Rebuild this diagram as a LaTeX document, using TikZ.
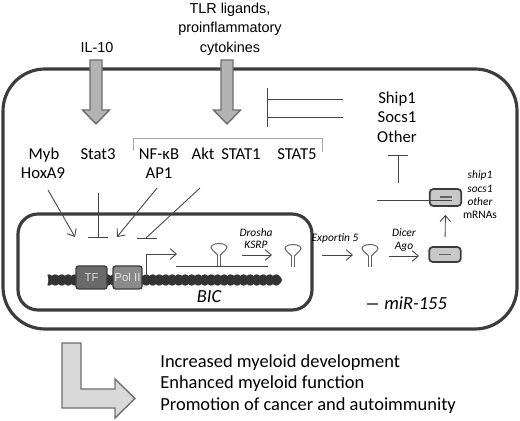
\documentclass[tikz,border=0pt]{standalone}
\usepackage{fontspec}
\setmainfont{Carlito}
\newfontfamily\arialf{Liberation Sans}
\usetikzlibrary{arrows.meta}
\definecolor{memgray}{HTML}{3C3C3C}
\definecolor{linegray}{HTML}{454545}
\definecolor{blockfill}{HTML}{B3B3B3}
\definecolor{blockline}{HTML}{6E6E6E}
\definecolor{lfill}{HTML}{D9D9D9}
\definecolor{dnagray}{HTML}{333333}
\definecolor{tfgray}{HTML}{6A6A6A}
\definecolor{polgray}{HTML}{8A8A8A}
\definecolor{boxfill}{HTML}{C8C8C8}

\begin{document}
\begin{tikzpicture}[x=0.02cm,y=-0.02cm,
    lbl/.style={font=\fontsize{9.5}{11}\selectfont,text height=6.2pt,text depth=0pt,inner sep=0pt},
    arial/.style={font=\arialf\fontsize{8.2}{10}\selectfont,text height=5.9pt,text depth=0pt,inner sep=0pt},
    mini/.style={font=\fontsize{6.5}{8}\selectfont\itshape,text height=4.2pt,text depth=0pt,inner sep=0pt},
    bigit/.style={font=\fontsize{10.5}{12}\selectfont\itshape,text height=6.8pt,text depth=0pt,inner sep=0pt},
    outtxt/.style={font=\fontsize{10.5}{12}\selectfont,text height=6.8pt,text depth=0pt,inner sep=0pt,anchor=west},
    thinln/.style={draw=linegray,line width=0.5pt},
    act/.style={thinln,-{Straight Barb[length=3.5pt,width=6pt]}},
    inh/.style={thinln,-{Bar[width=11pt]}},
    mirna/.style={draw=memgray!80,line width=1pt},
    membrane/.style={draw=memgray,line width=1.8pt},
    blockarr/.style={draw=blockline,fill=blockfill,line width=0.8pt},
    gene/.style={draw=memgray,line width=0.8pt,rounded corners=1.5pt,minimum height=0.46cm,inner sep=0pt,font=\arialf\fontsize{6.5}{7}\selectfont},
    riscbox/.style={draw=memgray,fill=boxfill,line width=1pt,rounded corners=2pt,minimum width=0.63cm,inner sep=0pt},
    hpin/.style={draw=linegray!85,line width=0.55pt},
    blockdown/.pic={\draw[blockarr] (-6,0) -- (6,0) -- (6,50) -- (13.5,50) -- (0,64) -- (-13.5,50) -- (-6,50) -- cycle;},
    hairpin/.pic={
      \draw[hpin] (-1.3,0) -- (-1.3,-11) (1.3,0) -- (1.3,-11);
      \draw[hpin] (-1.3,-11) -- (-6.5,-16) .. controls (-10.5,-19.5) and (-6,-22.5) .. (0,-22.5)
                  .. controls (6,-22.5) and (10.5,-19.5) .. (6.5,-16) -- (1.3,-11);}
  ]
  \useasboundingbox (0,0) rectangle (520,421);
  % cell and nucleus
  \draw[membrane,rounded corners=0.84cm] (3,69) rectangle (517,329);
  \draw[membrane,rounded corners=0.4cm] (18,214) rectangle (312,310);
  % stimuli
  \pic at (96,60) {blockdown};
  \pic at (227,60) {blockdown};
  \draw
    (97,47) node[arial] (il10) {IL-10}
    (230,8) node[arial] (tlr1) {TLR ligands,}
    (230,27.5) node[arial] (tlr2) {proinflammatory}
    (230,47) node[arial] (tlr3) {cytokines};
  % factors
  \draw
    (44,154) node[lbl] (myb) {Myb}
    (43,173) node[lbl] (hoxa) {HoxA9}
    (98,154) node[lbl] (stat3) {Stat3}
    (159,154) node[lbl] (nfkb) {NF-κB}
    (159,173) node[lbl] (ap1) {AP1}
    (203,154) node[lbl] (akt) {Akt}
    (241,154) node[lbl] (stat1) {STAT1}
    (297,154) node[lbl] (stat5) {STAT5}
    (397,98) node[lbl] (ship) {Ship1}
    (397,117) node[lbl] (socs) {Socs1}
    (397,137) node[lbl] (other) {Other};
  \draw[draw=gray!70,line width=0.5pt] (133,151) -- (133,138) -- (322,138) -- (322,152);
  \coordinate (mybs) at (48,190);
  \coordinate (mybe) at (75,237);
  \coordinate (stat3s) at (98,193);
  \coordinate (stat3e) at (98,238);
  \coordinate (nfkbs) at (157,188);
  \coordinate (nfkbe) at (117,237);
  \coordinate (akts) at (200,188);
  \coordinate (akte) at (146,238);
  \coordinate (ships) at (343,99);
  \coordinate (shipe) at (267,99);
  \coordinate (socss) at (343,117);
  \coordinate (socse) at (267,117);
  \begin{scope}[thinln]
    \draw[act] (mybs) to (mybe);
    \draw[inh] (stat3s) to (stat3e);
    \draw[act] (nfkbs) to (nfkbe);
    \draw (akts) to (akte);
    \draw (akte) ++(-9,0) -- ++(20,0);
    \draw (ships) to (shipe);
    \draw (socss) to (socse);
    \draw (267,88) -- (267,127);
  \end{scope}
  % BIC gene
  \draw[dnagray,line width=2.9pt] plot[domain=48:280,samples=300] (\x,{280+3*sin(27.7*\x)});
  \draw[dnagray,line width=2.9pt] plot[domain=48:280,samples=300] (\x,{280-3*sin(27.7*\x)});
  \node[gene,fill=tfgray,text=black!15,minimum width=0.62cm] (tf) at (91.5,277.5) {TF};
  \node[gene,fill=polgray,text=black!10,minimum width=0.58cm] (pol) at (127.5,277.5) {Pol II};
  \coordinate (tss) at (146,274);
  \coordinate (tsse) at (177,254);
  \draw[act] (tss) |- (tsse);
  \node[bigit] (bic) at (209,297) {BIC};
  % processing
  \coordinate (pril) at (176,266);
  \coordinate (prir) at (268,266);
  \draw[thinln] (pril) -- (prir);
  \pic at (219,266) {hairpin};
  \pic at (293,267) {hairpin};
  \pic at (370,267) {hairpin};
  \coordinate (dro1) at (242,255);
  \coordinate (dro2) at (272,255);
  \coordinate (exp1) at (322,255);
  \coordinate (exp2) at (353,255);
  \coordinate (dic1) at (389,256);
  \coordinate (dic2) at (419,256);
  \draw[act] (dro1) -- (dro2);
  \draw[act] (exp1) -- (exp2);
  \draw[act] (dic1) -- (dic2);
  \draw
    (256,233) node[mini] (drosha) {Drosha}
    (256,245) node[mini] (ksrp) {KSRP}
    (335,238) node[mini] (exportin) {Exportin 5}
    (404,233) node[mini] (dicer) {Dicer}
    (404,246) node[mini] (ago) {Ago};
  % RISC and targets
  \node[riscbox,minimum height=0.3cm] (risc) at (445,254.5) {};
  \draw[mirna] (439,254.5) -- (451,254.5);
  \node[riscbox,minimum height=0.34cm] (target) at (445.5,197.5) {};
  \coordinate (mrnal) at (377,200);
  \coordinate (mrnar) at (452,200);
  \draw[thinln] (mrnal) -- (mrnar);
  \draw[mirna] (440,197) -- (452,197);
  \draw[act,shorten <=0.18cm,shorten >=0.16cm] (risc.north) -- (target.south);
  \coordinate (oths) at (398,183);
  \coordinate (othe) at (398,155);
  \draw[inh] (oths) -- (othe);
  \draw
    (480,175) node[mini] (tship) {ship1}
    (480,189) node[mini] (tsocs) {socs1}
    (480,202) node[mini] (tother) {other}
    (480,215) node[mini,font=\fontsize{6.5}{8}\selectfont] (tmrna) {mRNAs};
  \draw[mirna] (367,304) -- (378,304);
  \node[bigit,anchor=west] (mir) at (384,304) {miR-155};
  % outcome
  \draw[blockarr,fill=lfill] (62,343) -- (81,343) -- (81,389) -- (115,389) -- (115,379)
    -- (135,398.5) -- (115,418) -- (115,408) -- (62,408) -- cycle;
  \draw
    (160,362) node[outtxt] (out1) {Increased myeloid development}
    (160,383) node[outtxt] (out2) {Enhanced myeloid function}
    (160,405) node[outtxt] (out3) {Promotion of cancer and autoimmunity};
\end{tikzpicture}
\end{document}
